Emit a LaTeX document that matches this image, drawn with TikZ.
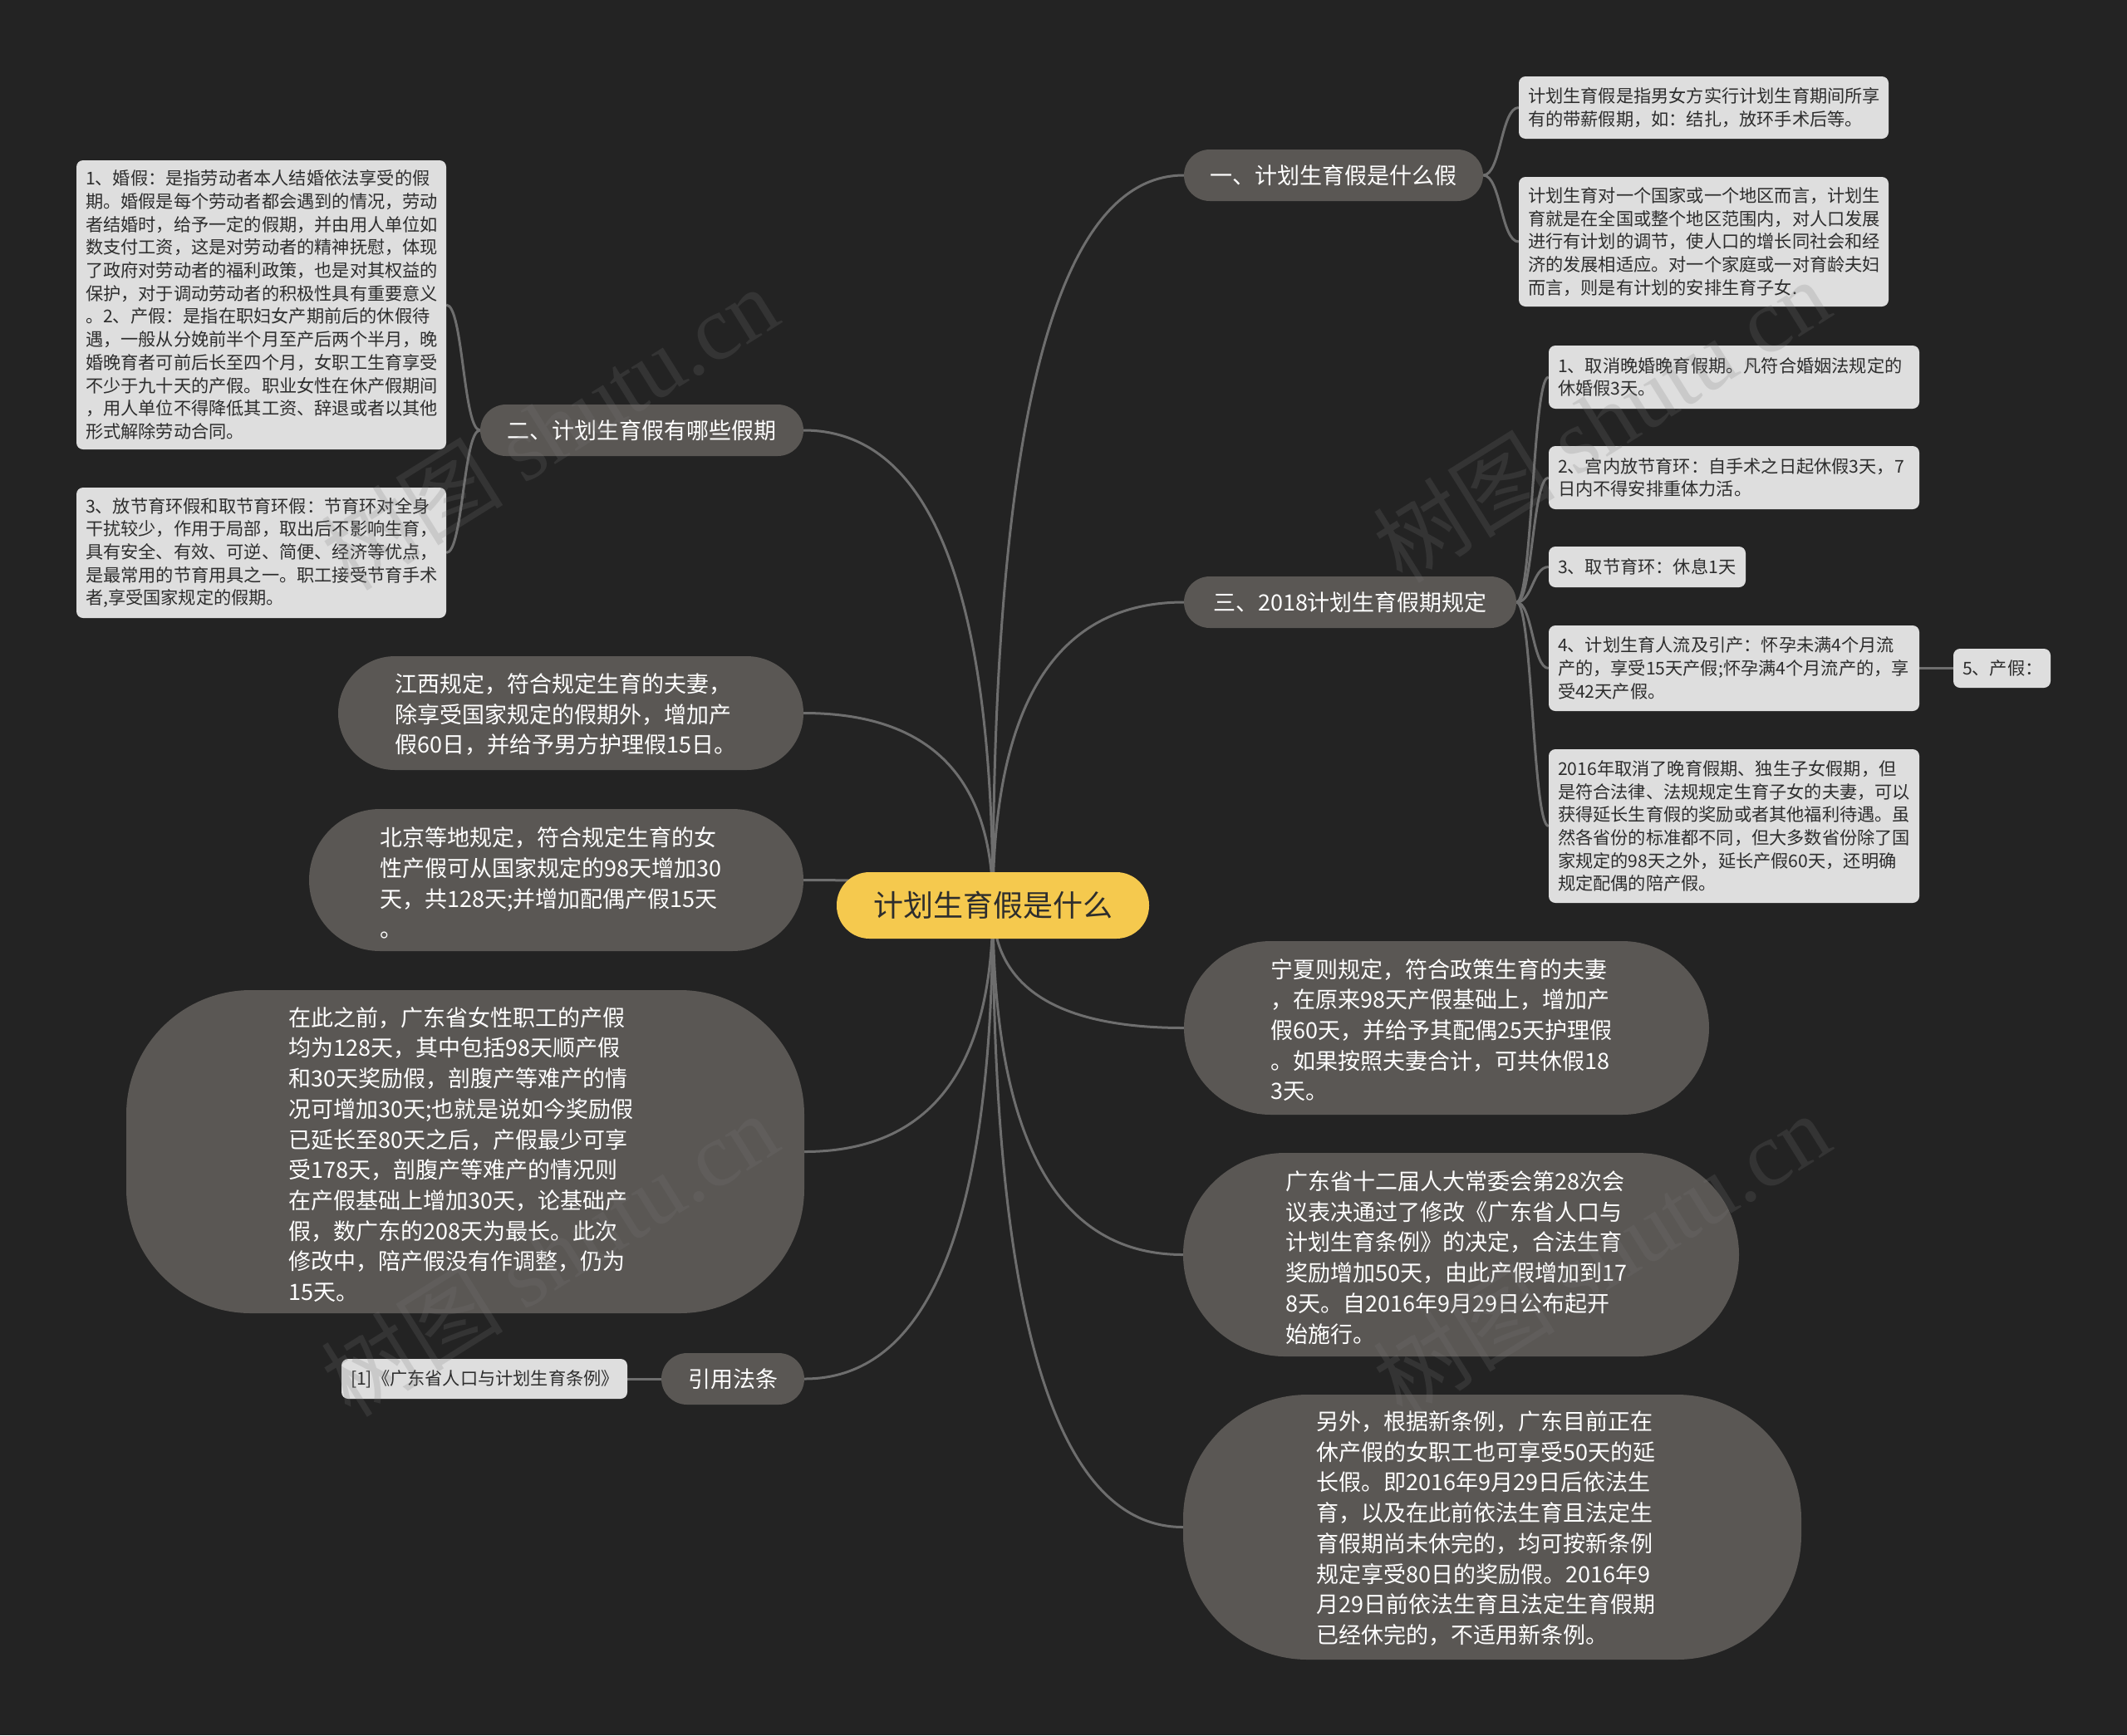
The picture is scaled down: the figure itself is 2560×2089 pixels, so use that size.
\documentclass[tikz,border=0pt]{standalone}
\usepackage{fontspec}
\setmainfont{Noto Sans CJK SC}
\newfontfamily\wmfont{Liberation Serif}
\usetikzlibrary{calc}
\definecolor{bgc}{RGB}{35,35,35}
\definecolor{linec}{RGB}{110,110,110}
\definecolor{gnode}{RGB}{90,87,84}
\definecolor{lbox}{RGB}{222,222,222}
\definecolor{ltext}{RGB}{45,45,45}
\definecolor{ctr}{RGB}{245,201,78}
\definecolor{wmc}{RGB}{120,120,120}
\pgfdeclarelayer{back}
\pgfdeclarelayer{front}
\pgfsetlayers{back,main,front}
\tikzset{
  link/.style={draw=linec, line width=3pt},
  gb/.style n args={3}{fill=gnode, draw=none, text=white, font=\fontsize{27}{36.7}\selectfont,
     inner sep=0pt, minimum width=#1pt, minimum height=#2pt, rounded corners=#3pt},
  gtext/.style={text=white, font=\fontsize{27}{36.7}\selectfont, align=left, inner sep=0pt, anchor=west},
  lb/.style 2 args={fill=lbox, text=ltext, rounded corners=8pt, font=\fontsize{21.2}{27.7}\selectfont,
     align=left, inner xsep=11pt, inner ysep=0pt, text width=#1pt-22pt, minimum height=#2pt},
  wm/.style={text=wmc, text opacity=0.2, font=\fontsize{110}{110}\selectfont, inner sep=0pt, rotate=32},
}
\newcommand\trunk[2]{\draw[link] (#1) .. controls ($(#1)!0.6667!(#1|-#2)$) and ($(#2)!0.6667!(#1|-#2)$) .. (#2);}
\newcommand\brk[2]{\draw[link] let \p1=(#1), \p2=(#2) in (#1) .. controls ({(\x1+\x2)/2},\y1) and ({(\x1+\x2)/2},\y2) .. (#2);}
\begin{document}
\begin{tikzpicture}[x=1pt,y=-1pt]
\useasboundingbox (0,0) rectangle (2560,2089);
\begin{pgfonlayer}{back}
\fill[bgc] (0,0) rectangle (2560,2089);
\end{pgfonlayer}

% center
\node[fill=ctr, rounded corners=39.5pt, minimum width=376pt, minimum height=80pt, inner sep=0pt,
  text=ltext, font=\fontsize{36}{40}\selectfont] (c) at (1195,1090) {计划生育假是什么};

% main branches
\node[gb={360}{62}{31}] (b1) at (1605,211) {一、计划生育假是什么假};
\node[gb={389}{62}{31}] (b2) at (772.5,518) {二、计划生育假有哪些假期};
\node[gb={400}{62}{31}] (b3) at (1625,725) {三、2018计划生育假期规定};
\node[gb={172}{62}{31}] (cite) at (882,1660) {引用法条};

\node[gb={560}{137}{68.5}] (jx) at (687,858.5) {};
\node[gtext] (jxt) at (475,860) {江西规定，符合规定生育的夫妻，\\除享受国家规定的假期外，增加产\\假60日，并给予男方护理假15日。};

\node[gb={595}{171}{85.5}] (bj) at (669.5,1059.5) {};
\node[gtext] (bjt) at (457,1063) {北京等地规定，符合规定生育的女\\性产假可从国家规定的98天增加30\\天，共128天;并增加配偶产假15天\\。};

\node[gb={816}{389}{150}] (gdl) at (560,1386.5) {};
\node[gtext] (gdlt) at (347,1390) {在此之前，广东省女性职工的产假\\均为128天，其中包括98天顺产假\\和30天奖励假，剖腹产等难产的情\\况可增加30天;也就是说如今奖励假\\已延长至80天之后，产假最少可享\\受178天，剖腹产等难产的情况则\\在产假基础上增加30天，论基础产\\假，数广东的208天为最长。此次\\修改中，陪产假没有作调整，仍为\\15天。};

\node[gb={632}{209}{104.5}] (nx) at (1741,1237.5) {};
\node[gtext] (nxt) at (1529,1240) {宁夏则规定，符合政策生育的夫妻\\，在原来98天产假基础上，增加产\\假60天，并给予其配偶25天护理假\\。如果按照夫妻合计，可共休假18\\3天。};

\node[gb={669}{245}{122.5}] (npc) at (1758.5,1510.5) {};
\node[gtext] (npct) at (1547,1514) {广东省十二届人大常委会第28次会\\议表决通过了修改《广东省人口与\\计划生育条例》的决定，合法生育\\奖励增加50天，由此产假增加到17\\8天。自2016年9月29日公布起开\\始施行。};

\node[gb={744}{319}{150}] (oth) at (1796,1838.5) {};
\node[gtext] (otht) at (1584,1840) {另外，根据新条例，广东目前正在\\休产假的女职工也可享受50天的延\\长假。即2016年9月29日后依法生\\育，以及在此前依法生育且法定生\\育假期尚未休完的，均可按新条例\\规定享受80日的奖励假。2016年9\\月29日前依法生育且法定生育假期\\已经休完的，不适用新条例。};

% light leaves
\node[lb={445}{75}] (l1a) at (2050.5,129.5) {计划生育假是指男女方实行计划生育期间所享\\有的带薪假期，如：结扎，放环手术后等。};
\node[lb={445}{156}] (l1b) at (2050.5,291) {计划生育对一个国家或一个地区而言，计划生\\育就是在全国或整个地区范围内，对人口发展\\进行有计划的调节，使人口的增长同社会和经\\济的发展相适应。对一个家庭或一对育龄夫妇\\而言，则是有计划的安排生育子女.};

\node[lb={445}{348}] (l2a) at (314.5,367) {1、婚假：是指劳动者本人结婚依法享受的假\\期。婚假是每个劳动者都会遇到的情况，劳动\\者结婚时，给予一定的假期，并由用人单位如\\数支付工资，这是对劳动者的精神抚慰，体现\\了政府对劳动者的福利政策，也是对其权益的\\保护，对于调动劳动者的积极性具有重要意义\\。2、产假：是指在职妇女产期前后的休假待\\遇，一般从分娩前半个月至产后两个半月，晚\\婚晚育者可前后长至四个月，女职工生育享受\\不少于九十天的产假。职业女性在休产假期间\\，用人单位不得降低其工资、辞退或者以其他\\形式解除劳动合同。};
\node[lb={445}{157}] (l2b) at (314.5,665.5) {3、放节育环假和取节育环假：节育环对全身\\干扰较少，作用于局部，取出后不影响生育，\\具有安全、有效、可逆、简便、经济等优点，\\是最常用的节育用具之一。职工接受节育手术\\者,享受国家规定的假期。};

\node[lb={446}{76}] (l3a) at (2087,454) {1、取消晚婚晚育假期。凡符合婚姻法规定的\\休婚假3天。};
\node[lb={446}{76}] (l3b) at (2087,575) {2、宫内放节育环：自手术之日起休假3天，7\\日内不得安排重体力活。};
\node[lb={237}{49}] (l3c) at (1982.5,682.5) {3、取节育环：休息1天};
\node[lb={446}{103}] (l3d) at (2087,804.5) {4、计划生育人流及引产：怀孕未满4个月流\\产的，享受15天产假;怀孕满4个月流产的，享\\受42天产假。};
\node[lb={446}{185}] (l3e) at (2087,994.5) {2016年取消了晚育假期、独生子女假期，但\\是符合法律、法规规定生育子女的夫妻，可以\\获得延长生育假的奖励或者其他福利待遇。虽\\然各省份的标准都不同，但大多数省份除了国\\家规定的98天之外，延长产假60天，还明确\\规定配偶的陪产假。};
\node[lb={117}{47}] (l5) at (2409.5,804.5) {5、产假：};
\node[lb={344}{48}] (ref) at (583,1660) {[1]《广东省人口与计划生育条例》};

% connectors
\begin{pgfonlayer}{back}
\trunk{c.center}{b1.west}
\trunk{c.center}{b3.west}
\trunk{c.center}{nx.west}
\trunk{c.center}{npc.west}
\trunk{c.center}{oth.west}
\trunk{c.center}{b2.east}
\trunk{c.center}{jx.east}
\trunk{c.center}{bj.east}
\trunk{c.center}{gdl.east}
\trunk{c.center}{cite.east}
\brk{b1.east}{l1a.west}
\brk{b1.east}{l1b.west}
\brk{b2.west}{l2a.east}
\brk{b2.west}{l2b.east}
\brk{b3.east}{l3a.west}
\brk{b3.east}{l3b.west}
\brk{b3.east}{l3c.west}
\brk{b3.east}{l3d.west}
\brk{b3.east}{l3e.west}
\brk{l3d.east}{l5.west}
\brk{cite.west}{ref.east}
\end{pgfonlayer}

% watermarks
\begin{pgfonlayer}{front}
\node[wm] (wm1) at (661,515) {树图 {\wmfont shutu.cn}};
\node[wm] (wm2) at (1927,506) {树图 {\wmfont shutu.cn}};
\node[wm] (wm3) at (661,1510) {树图 {\wmfont shutu.cn}};
\node[wm] (wm4) at (1927,1510) {树图 {\wmfont shutu.cn}};
\end{pgfonlayer}
\end{tikzpicture}
\end{document}
